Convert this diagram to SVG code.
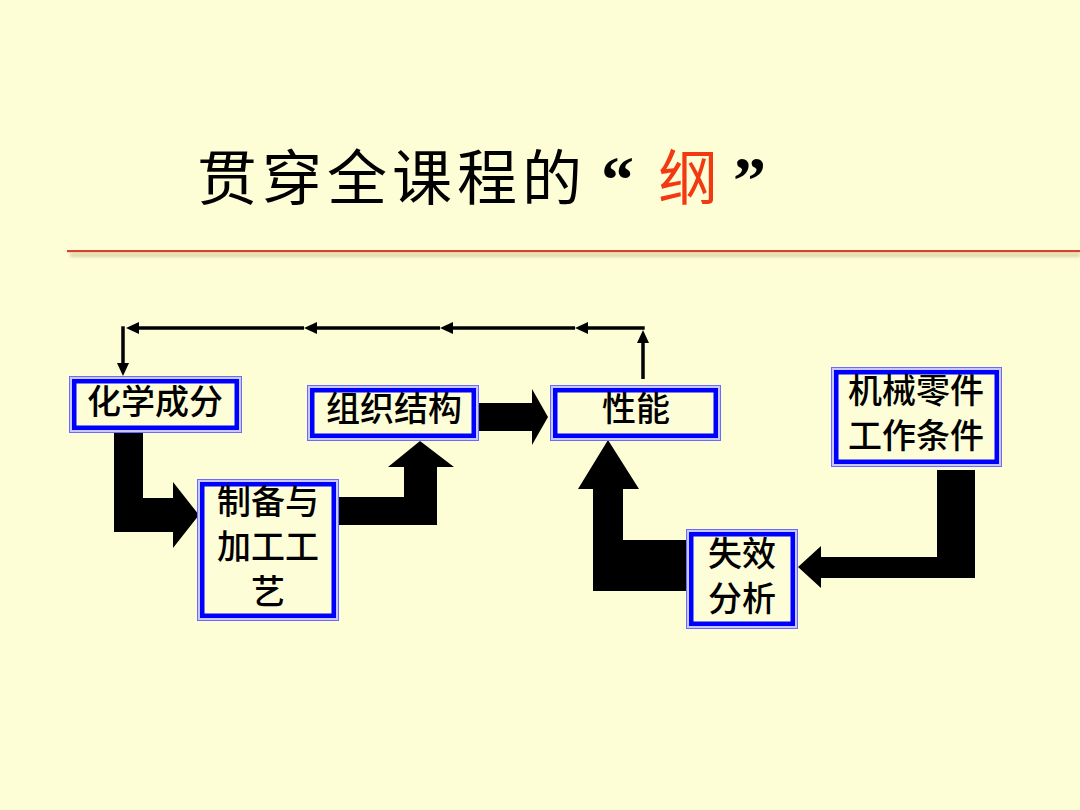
<svg xmlns="http://www.w3.org/2000/svg" width="1080" height="810" viewBox="0 0 1080 810">
<style>
.o{fill:#C8C8FF;stroke:#6A6AFF;stroke-width:1}
.i{fill:#FDFDD8;stroke:#0000FF;stroke-width:4.5}
.t{font-family:"Noto Sans CJK SC","Noto Sans",sans-serif;font-size:34px;font-weight:500;fill:#000;text-anchor:middle}
.blk{fill:#000}
.thin{stroke:#000;stroke-width:3.5;fill:none}
</style>
<defs>
<marker id="ah" markerUnits="userSpaceOnUse" markerWidth="14" markerHeight="12" refX="7" refY="6" orient="auto">
<path d="M0,0 L13,6 L0,12 Z" fill="#000"/>
</marker>
<filter id="sh" x="-5%" y="-200%" width="110%" height="500%"><feGaussianBlur stdDeviation="1.5"/></filter>
</defs>
<rect x="0" y="0" width="1080" height="810" fill="#FDFDD6"/>
<g id="title">
<text x="197" y="200" font-family="Noto Sans CJK SC, sans-serif" font-size="60" letter-spacing="5" fill="#000">贯穿全课程的</text>
<text x="601" y="202" font-family="Liberation Serif, serif" font-size="66" font-weight="bold" fill="#000">“</text>
<text x="658" y="200" font-family="Noto Sans CJK SC, sans-serif" font-size="60" fill="#F23A12">纲</text>
<text x="733" y="202" font-family="Liberation Serif, serif" font-size="66" font-weight="bold" fill="#000">”</text>
</g>
<g id="rule">
<rect x="70" y="253" width="1010" height="4" fill="#C8C090" opacity="0.6" filter="url(#sh)"/>
<rect x="67" y="250" width="1013" height="2.2" fill="#D4432E"/>
</g>
<g id="connectors">
<line class="thin" x1="643" y1="379" x2="643" y2="336" marker-end="url(#ah)"/>
<line class="thin" x1="644.7" y1="328" x2="581" y2="328" marker-end="url(#ah)"/>
<line class="thin" x1="575" y1="328" x2="446" y2="328" marker-end="url(#ah)"/>
<line class="thin" x1="440" y1="328" x2="310" y2="328" marker-end="url(#ah)"/>
<line class="thin" x1="304" y1="328" x2="132" y2="328" marker-end="url(#ah)"/>
<line class="thin" x1="123" y1="326.3" x2="123" y2="370" marker-end="url(#ah)"/>
<path class="blk" d="M114,433 H143 V498 H173 V482 L199,515 L173,548 V532 H114 Z"/>
<path class="blk" d="M339,497 H404 V467 H388 L420,441 L454,467 H437 V525 H339 Z"/>
<path class="blk" d="M479,403 H532 V389 L548,417 L532,445 V431 H479 Z"/>
<path class="blk" d="M686,540 H623 V489 H639 L608,440 L578,489 H593 V591 H686 Z"/>
<path class="blk" d="M937,470 H975 V578 H821 V588 L798,567 L821,546 V557 H937 Z"/>
</g>
<g id="node-chem">
<rect class="o" x="69.5" y="376.5" width="172" height="56"/>
<rect class="i" x="74.25" y="381.25" width="162.5" height="46.5"/>
<text class="t" x="155" y="414">化学成分</text>
</g>
<g id="node-struct">
<rect class="o" x="307.5" y="385.5" width="171" height="55"/>
<rect class="i" x="312.25" y="390.25" width="161.5" height="45.5"/>
<text class="t" x="394" y="421">组织结构</text>
</g>
<g id="node-prop">
<rect class="o" x="550.5" y="385.5" width="170" height="55"/>
<rect class="i" x="555.25" y="390.25" width="160.5" height="45.5"/>
<text class="t" x="636" y="421">性能</text>
</g>
<g id="node-process">
<rect class="o" x="197.5" y="479.5" width="141" height="141"/>
<rect class="i" x="202.25" y="484.25" width="131.5" height="131.5"/>
<text class="t" x="268" y="514">制备与<tspan x="268" dy="45">加工工</tspan><tspan x="268" dy="45">艺</tspan></text>
</g>
<g id="node-work">
<rect class="o" x="831.5" y="367.5" width="170" height="99"/>
<rect class="i" x="836.25" y="372.25" width="160.5" height="89.5"/>
<text class="t" x="916" y="403">机械零件<tspan x="916" dy="45">工作条件</tspan></text>
</g>
<g id="node-fail">
<rect class="o" x="686.5" y="529.5" width="111" height="99"/>
<rect class="i" x="691.25" y="534.25" width="101.5" height="89.5"/>
<text class="t" x="742" y="566">失效<tspan x="742" dy="45">分析</tspan></text>
</g>
</svg>
